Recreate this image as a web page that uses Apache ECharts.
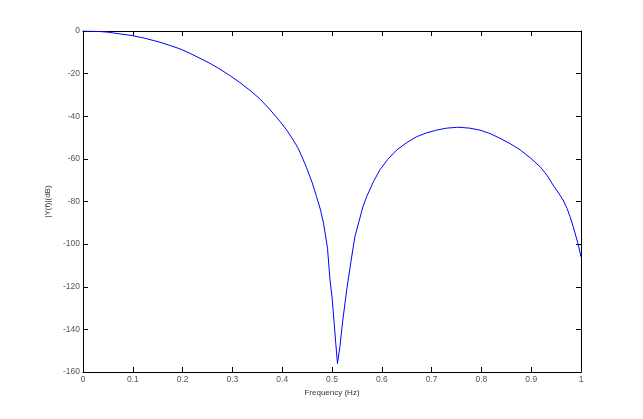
<!DOCTYPE html>
<html>
<head>
<meta charset="utf-8">
<script src="https://cdn.jsdelivr.net/npm/echarts@6/dist/echarts.min.js"></script>
<style>
html,body{margin:0;padding:0;background:#fff;}
#chart{width:643px;height:419px;}
</style>
</head>
<body>
<div id="chart"></div>
<script>
// Frequency (Hz) and magnitude |Y(f)| (dB)
var freq = [0, 0.034, 0.05, 0.1, 0.125, 0.155, 0.175, 0.195, 0.215, 0.235, 0.255, 0.275, 0.295, 0.315, 0.335, 0.355, 0.375, 0.396, 0.41, 0.422, 0.432, 0.441, 0.449, 0.46, 0.469, 0.477, 0.483, 0.491, 0.496, 0.5006, 0.507, 0.511, 0.516, 0.521, 0.5295, 0.5395, 0.546, 0.555, 0.562, 0.570, 0.583, 0.596, 0.612, 0.630, 0.650, 0.670, 0.690, 0.710, 0.730, 0.750, 0.757, 0.777, 0.797, 0.817, 0.837, 0.858, 0.878, 0.898, 0.918, 0.932, 0.944, 0.955, 0.964, 0.972, 0.978, 0.984, 0.988, 0.994, 1.0];
var magDb = [0, -0.25, -0.55, -2.2, -3.45, -5.3, -6.8, -8.4, -10.5, -12.8, -15.2, -17.9, -20.9, -24.2, -27.8, -31.8, -36.8, -42.5, -46.8, -51.1, -55.0, -59.7, -64.2, -71.0, -77.7, -84.0, -90.2, -102, -116.8, -126, -145, -156, -148, -137, -121.5, -106, -96.5, -88.7, -82.5, -77.5, -70.8, -65.2, -60.2, -55.8, -52.4, -49.6, -47.8, -46.5, -45.6, -45.2, -45.2, -45.6, -46.5, -48.1, -50.3, -52.9, -55.8, -59.5, -63.7, -67.8, -72.3, -76.0, -79.3, -83.3, -87.1, -91.6, -94.8, -99.8, -106];
var xTicks = {min: 0, max: 1, interval: 0.1};
var yTicks = {min: -160, max: 0, interval: 20};
var xTitle = 'Frequency (Hz)';
var yTitle = '|Y(f)|(dB)';

var data = freq.map(function (f, i) { return [f, magDb[i]]; });
var font = 'Arial, "Liberation Sans", sans-serif';
var tick = {show: true, inside: true, length: 5, lineStyle: {color: '#000', width: 1}};
var line = {show: true, onZero: false, lineStyle: {color: '#000', width: 1}};
var chart = echarts.init(document.getElementById('chart'), null, {renderer: 'canvas'});
chart.setOption({
  animation: false,
  backgroundColor: '#fff',
  grid: {left: 83, top: 31, width: 498, height: 341, containLabel: false},
  xAxis: [{
    type: 'value', position: 'bottom', min: xTicks.min, max: xTicks.max, interval: xTicks.interval,
    name: xTitle, nameLocation: 'middle', nameGap: 11,
    nameTextStyle: {color: '#333', fontSize: 8, fontFamily: font},
    axisLine: line, axisTick: tick, splitLine: {show: false},
    axisLabel: {color: '#555', fontSize: 8.5, fontFamily: font, margin: 3}
  }, {
    type: 'value', position: 'top', min: xTicks.min, max: xTicks.max, interval: xTicks.interval,
    axisLine: line, axisTick: tick, splitLine: {show: false}, axisLabel: {show: false}
  }],
  yAxis: [{
    type: 'value', position: 'left', min: yTicks.min, max: yTicks.max, interval: yTicks.interval,
    name: yTitle, nameLocation: 'middle', nameGap: 19, nameRotate: 90,
    nameTextStyle: {color: '#333', fontSize: 8, fontFamily: font},
    axisLine: line, axisTick: tick, splitLine: {show: false},
    axisLabel: {color: '#555', fontSize: 8.5, fontFamily: font, margin: 3}
  }, {
    type: 'value', position: 'right', min: yTicks.min, max: yTicks.max, interval: yTicks.interval,
    axisLine: line, axisTick: tick, splitLine: {show: false}, axisLabel: {show: false}
  }],
  series: [{
    type: 'line', data: data, showSymbol: false, smooth: false,
    lineStyle: {color: '#0000ff', width: 1}, clip: true
  }]
});
</script>
</body>
</html>
